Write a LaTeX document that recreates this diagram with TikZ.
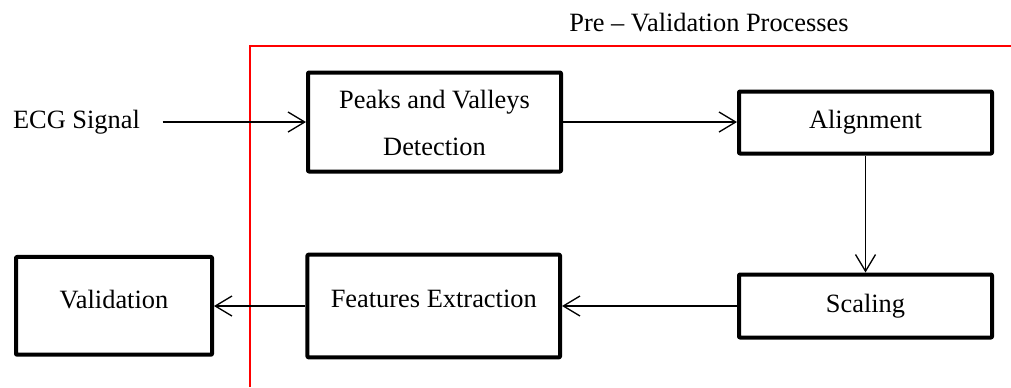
\documentclass[tikz,border=0pt]{standalone}
\usepackage{fontspec}
\setmainfont{Liberation Serif}
\usetikzlibrary{arrows.meta}
\begin{document}
\begin{tikzpicture}[x=0.75pt,y=-0.75pt,
  every node/.style={font=\fontsize{19.8}{35.25}\selectfont, inner sep=0pt},
  procbox/.style={draw, line width=3pt, line join=round, rounded corners=0.6pt,
                  text height=13.5pt, align=center},
  flow/.style={line width=1pt, -{Straight Barb[length=12.5pt,width=15pt]}},
  frame/.style={draw=red, line width=1.5pt}]
\useasboundingbox (0,0) rectangle (1011,387);

% boundary of the pre-validation stage
\draw[frame] (250,387) -- (250,46) -- (1011,46);
\node[anchor=base] (title) at (709,31.7) {Pre \textendash{} Validation Processes};

% input label
\node[anchor=base] (ecg) at (76.5,128) {ECG Signal};
\coordinate (src) at (162.6,122);

% processing blocks
\node[procbox, minimum width=189.75pt, minimum height=74.25pt,
      text height=49.5pt, text depth=0pt]
  (peaks) at (434.5,122) {Peaks and Valleys\\Detection};
\node[procbox, minimum width=189.75pt, minimum height=46.5pt, text depth=5.25pt]
  (alignment) at (865.5,122.5) {Alignment};
\node[procbox, minimum width=189.75pt, minimum height=47.25pt, text depth=4.5pt]
  (scaling) at (865.5,306) {Scaling};
\node[procbox, minimum width=189.4pt, minimum height=77pt, text depth=11.55pt]
  (features) at (433.75,306) {Features Extraction};
\node[procbox, minimum width=147pt, minimum height=73.3pt, text depth=9.75pt]
  (validation) at (114,305.85) {Validation};

% data flow
\draw[flow] (src) -- (peaks.west);
\draw[flow] (peaks.east) -- (alignment.west |- peaks.east);
\draw[flow] (alignment.south) -- (scaling.north);
\draw[flow] (scaling.west) -- (features.east |- scaling.west);
\draw[flow] (features.west) -- (validation.east |- features.west);
\end{tikzpicture}
\end{document}
